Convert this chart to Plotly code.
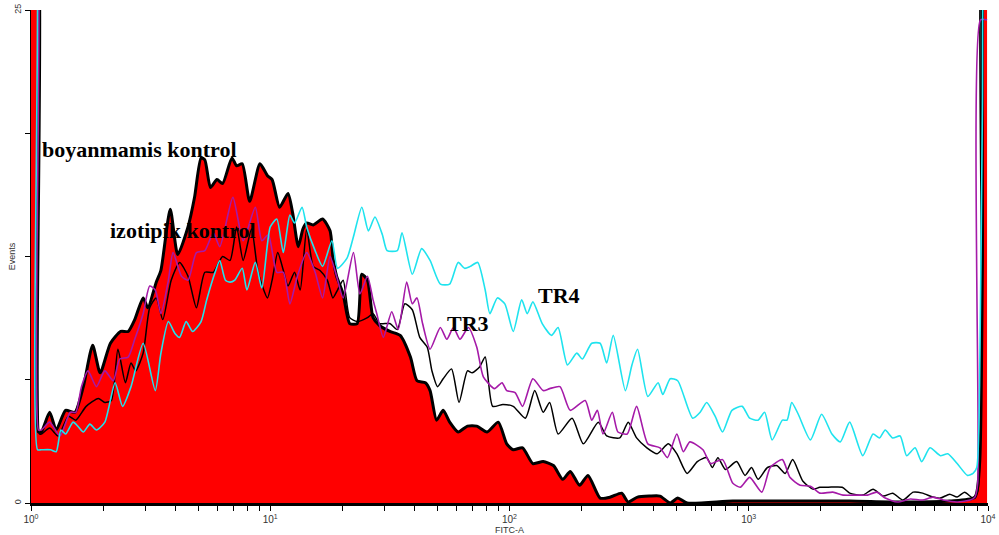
import plotly.graph_objects as go

# FITC-A histograms: channel numbers (1024 channels over 4 log decades) and event counts

boyanmamis_ch = [0, 5, 8, 11, 20, 27, 37, 47, 56, 66, 74, 85, 96, 104, 111, 120, 125, 134, 139, 149,
                 157, 168, 175, 182, 186, 192, 199, 205, 215, 220, 226, 234, 245, 253, 258, 266, 275,
                 280, 286, 291, 295, 302, 312, 320, 323, 327, 334, 341, 349, 354, 360, 366, 373, 384,
                 395, 406, 413, 422, 427, 434, 441, 448, 457, 467, 477, 488, 500, 509, 516, 526, 537,
                 548, 559, 569, 577, 587, 596, 609, 620, 632, 639, 649, 662, 673, 684, 692, 702, 751,
                 823, 876, 930, 983, 1010, 1015, 1018, 1021, 1023]
boyanmamis_events = [30, 30, 3.6, 3.6, 4.6, 3.7, 4.7, 4.6, 5.9, 8.0, 6.6, 8.1, 8.7, 8.7, 9.3, 10.4, 9.9,
                     11.2, 11.8, 14.9, 12.6, 14.0, 15.5, 17.5, 17.4, 16.0, 16.4, 16.2, 17.5, 17.1, 17.2,
                     15.3, 17.2, 16.6, 16.4, 15.0, 15.7, 14.7, 13.0, 13.9, 14.2, 14.1, 14.4, 13.8, 12.5,
                     11.5, 10.6, 9.1, 9.1, 11.6, 11.3, 9.4, 9.0, 8.7, 8.5, 7.4, 6.2, 6.1, 5.7, 4.2, 4.7,
                     4.1, 3.6, 3.9, 3.9, 3.6, 4.1, 3.0, 2.7, 2.8, 2.0, 2.1, 1.9, 1.2, 1.6, 0.9, 1.4, 0.25,
                     0.3, 0.5, 0.05, 0.3, 0.35, 0.35, 0.0, 0.25, 0.0, 0.1, 0.1, 0.1, 0.05, 0.1, 0.3, 2.0,
                     12.0, 30, 30]

izotipik_ch = [0, 6, 9, 11, 20, 29, 40, 48, 59, 72, 79, 86, 93, 101, 107, 112, 120, 127, 134, 141, 150,
               159, 168, 177, 186, 195, 205, 213, 220, 227, 236, 243, 253, 258, 264, 270, 275, 282, 288,
               295, 302, 309, 317, 323, 328, 334, 341, 349, 360, 366, 373, 384, 392, 400, 408, 416, 424,
               429, 435, 441, 450, 458, 467, 472, 480, 486, 494, 505, 516, 529, 539, 548, 555, 564, 579,
               591, 607, 616, 630, 639, 648, 659, 670, 682, 691, 702, 713, 723, 729, 735, 743, 755, 764,
               771, 778, 788, 798, 807, 815, 826, 837, 844, 853, 868, 876, 890, 901, 912, 922, 933, 944,
               954, 965, 973, 983, 991, 999, 1008, 1013, 1017, 1019, 1023]
izotipik_events = [30, 30, 3.5, 3.5, 3.8, 3.4, 4.4, 4.2, 4.9, 5.3, 5.1, 5.2, 7.8, 6.1, 7.1, 6.7, 7.6,
                   9.9, 10.4, 9.3, 11.3, 12.2, 11.5, 9.9, 11.7, 11.7, 12.5, 12.3, 14.0, 12.3, 13.9, 11.7,
                   10.4, 11.3, 12.7, 11.8, 11.0, 11.7, 10.8, 13.9, 12.0, 11.8, 11.3, 10.4, 10.8, 11.3,
                   9.4, 9.2, 9.4, 9.6, 9.1, 9.1, 8.8, 10.1, 9.8, 8.4, 7.9, 6.7, 5.9, 6.3, 6.8, 5.1, 6.7,
                   6.6, 6.9, 7.4, 4.9, 5.0, 4.9, 4.3, 5.7, 4.6, 5.1, 3.5, 4.3, 3.0, 4.1, 3.4, 3.3, 4.1,
                   3.3, 2.8, 2.5, 3.0, 2.5, 1.5, 2.1, 2.3, 1.8, 2.3, 1.7, 2.1, 1.4, 1.8, 1.2, 1.8, 1.9,
                   1.5, 2.2, 1.1, 0.7, 0.8, 0.8, 0.8, 0.5, 0.4, 0.7, 0.35, 0.5, 0.15, 0.55, 0.5, 0.3,
                   0.25, 0.45, 0.3, 0.55, 0.25, 0.6, 10.0, 30, 30]

tr3_ch = [0, 5, 8, 11, 20, 31, 42, 48, 54, 61, 70, 79, 88, 95, 104, 111, 120, 127, 133, 139, 147, 152,
          161, 168, 177, 186, 195, 202, 216, 227, 240, 247, 254, 263, 270, 277, 285, 295, 304, 312, 320,
          327, 334, 345, 352, 360, 366, 370, 377, 386, 393, 402, 408, 413, 419, 427, 438, 445, 452, 459,
          468, 477, 484, 496, 504, 509, 518, 526, 537, 548, 555, 566, 577, 593, 600, 606, 612, 622, 628,
          638, 648, 660, 673, 681, 691, 698, 705, 719, 727, 740, 751, 759, 769, 782, 791, 804, 812, 823,
          834, 844, 858, 869, 884, 895, 905, 914, 927, 941, 954, 965, 976, 991, 1005, 1010, 1013, 1016,
          1023]
tr3_events = [30, 30, 3.7, 3.7, 4.1, 3.4, 4.6, 4.6, 5.9, 6.7, 5.9, 6.7, 6.2, 7.3, 7.4, 8.3, 9.6, 11.0,
              10.8, 9.6, 11.3, 12.7, 11.5, 11.3, 12.7, 12.8, 13.7, 13.0, 15.5, 13.3, 15.0, 13.3, 13.6,
              11.7, 11.7, 10.1, 11.5, 12.7, 11.7, 10.4, 12.5, 11.5, 10.4, 12.7, 10.6, 11.5, 10.3, 9.6,
              8.4, 9.7, 8.8, 11.2, 10.1, 10.4, 9.1, 7.8, 8.9, 8.3, 8.9, 8.3, 8.9, 7.9, 6.4, 5.8, 6.1,
              5.7, 5.6, 4.9, 6.3, 5.7, 5.8, 5.9, 4.7, 5.2, 4.2, 4.7, 3.5, 4.6, 3.6, 3.5, 4.9, 3.0, 2.8,
              2.3, 3.5, 2.6, 3.1, 2.7, 2.0, 2.2, 1.0, 0.8, 1.3, 0.55, 1.8, 2.2, 1.3, 0.9, 0.85, 0.5,
              0.55, 0.4, 0.4, 0.4, 0.55, 0.25, 0.05, 0.2, 0.15, 0.3, 0.15, 0.05, 0.15, 0.3, 1.0, 24.5,
              24.5]

tr4_ch = [0, 4, 7, 11, 21, 27, 32, 37, 45, 50, 56, 63, 70, 79, 90, 98, 107, 120, 133, 139, 147, 154,
          159, 166, 173, 182, 188, 197, 202, 208, 213, 218, 226, 231, 240, 247, 256, 263, 270, 277, 282,
          290, 295, 304, 312, 322, 328, 338, 345, 354, 361, 368, 376, 381, 392, 397, 408, 418, 427, 438,
          448, 457, 464, 470, 478, 486, 491, 499, 507, 516, 525, 531, 537, 547, 557, 564, 574, 584, 590,
          600, 609, 616, 623, 636, 643, 649, 660, 671, 676, 684, 692, 708, 716, 723, 732, 740, 750, 761,
          769, 778, 785, 793, 804, 809, 814, 821, 834, 846, 857, 866, 876, 890, 901, 908, 914, 922, 930,
          937, 946, 953, 962, 973, 981, 991, 1002, 1008, 1012, 1015, 1018, 1021, 1023]
tr4_events = [30, 30, 2.7, 2.7, 2.7, 2.6, 3.7, 3.5, 4.1, 3.9, 3.6, 4.0, 3.7, 4.1, 6.1, 4.9, 5.9, 8.1,
              5.7, 7.6, 9.2, 8.6, 8.4, 9.2, 8.7, 9.2, 10.3, 11.7, 12.3, 11.3, 11.2, 11.3, 11.9, 10.8,
              12.2, 10.9, 14.0, 14.4, 12.7, 14.6, 14.2, 15.0, 14.0, 12.8, 12.0, 13.3, 11.9, 12.4, 13.5,
              15.0, 13.8, 14.5, 13.6, 12.8, 12.8, 13.7, 11.6, 12.9, 12.3, 11.1, 11.1, 12.2, 11.9, 12.0,
              12.2, 10.8, 9.6, 10.4, 10.1, 8.7, 10.3, 9.6, 10.2, 9.1, 8.5, 8.9, 7.0, 7.6, 7.3, 8.1, 8.1,
              7.1, 8.5, 5.7, 7.0, 7.8, 5.4, 6.1, 5.5, 6.3, 6.2, 4.3, 4.6, 5.1, 4.4, 3.6, 4.7, 4.9, 4.3,
              4.2, 4.6, 3.2, 4.2, 4.2, 5.1, 4.5, 3.2, 4.5, 3.5, 3.1, 4.1, 2.4, 3.5, 3.3, 3.7, 3.3, 3.4,
              2.4, 2.8, 2.1, 2.8, 2.4, 2.5, 2.0, 1.4, 1.5, 1.8, 6.0, 20.0, 30, 30]

labels = ["boyanmamis kontrol", "izotipik kontrol", "TR3", "TR4"]
# label anchors: (log10 FITC-A of the left edge, events at the text middle)
label_pos = [(0.037, 17.95), (0.322, 13.8), (1.73, 9.08), (2.11, 10.5)]

decade_ticks = [1, 10, 100, 1000, 10000]
decade_text = ["10<sup>0</sup>", "10<sup>1</sup>", "10<sup>2</sup>", "10<sup>3</sup>", "10<sup>4</sup>"]
y_tickvals = [0, 6.25, 12.5, 18.75, 25]
y_ticktext = ["0", "", "", "", "25"]


def to_fitc(ch):
    return [10 ** (c / 256) for c in ch]


fig = go.Figure()

fig.add_trace(go.Scatter(
    x=to_fitc(boyanmamis_ch), y=boyanmamis_events, mode="lines", fill="tozeroy",
    fillcolor="#FF0000", line=dict(color="#000000", width=3, shape="spline", smoothing=0.6),
    name=labels[0]))
fig.add_trace(go.Scatter(
    x=to_fitc(izotipik_ch), y=izotipik_events, mode="lines",
    line=dict(color="#000000", width=1.5, shape="spline", smoothing=0.6), name=labels[1]))
fig.add_trace(go.Scatter(
    x=to_fitc(tr3_ch), y=tr3_events, mode="lines",
    line=dict(color="#A51AA8", width=1.6, shape="spline", smoothing=0.6), name=labels[2]))
fig.add_trace(go.Scatter(
    x=to_fitc(tr4_ch), y=tr4_events, mode="lines",
    line=dict(color="#1FE3EE", width=1.6, shape="spline", smoothing=0.6), name=labels[3]))

# tick positions 1..9 per decade, text only on the decades
x_tickvals, x_ticktext = [], []
for d, txt in zip(decade_ticks, decade_text):
    x_tickvals.append(d)
    x_ticktext.append(txt)
    if d < 10000:
        for m in range(2, 10):
            x_tickvals.append(d * m)
            x_ticktext.append("")

for text, (pos, ev) in zip(labels, label_pos):
    fig.add_annotation(
        x=pos, y=ev, xref="x", yref="y", text="<b>" + text + "</b>", showarrow=False,
        xanchor="left", yanchor="middle",
        font=dict(family="Liberation Serif, Times New Roman, serif", size=22, color="#000000"))

# y-axis title placed next to the tick labels
fig.add_annotation(
    x=-0.02, y=0.5, xref="paper", yref="paper", text="Events", textangle=-90, showarrow=False,
    xanchor="center", yanchor="middle", font=dict(size=9, color="#333333"))

fig.update_layout(
    width=999, height=535,
    margin=dict(l=31, r=11, t=10, b=32),
    paper_bgcolor="#FFFFFF", plot_bgcolor="#FFFFFF",
    showlegend=False,
    font=dict(family="Arial, Liberation Sans, sans-serif", size=10, color="#333333"),
)
fig.update_xaxes(
    type="log", range=[0, 4], tickvals=x_tickvals, ticktext=x_ticktext, automargin=False,
    ticks="outside", ticklen=5, tickcolor="#000000", tickwidth=1,
    showline=True, linecolor="#000000", linewidth=2.5, showgrid=False, zeroline=False,
    title=dict(text="FITC-A", font=dict(size=9, color="#333333"), standoff=2),
    tickfont=dict(size=10, color="#333333"),
)
fig.update_yaxes(
    range=[0, 25], tickvals=y_tickvals, ticktext=y_ticktext, automargin=False,
    ticks="outside", ticklen=5, tickcolor="#000000", tickwidth=1, tickangle=-90,
    showline=True, linecolor="#000000", linewidth=1, showgrid=False, zeroline=False,
    tickfont=dict(size=9, color="#333333"),
)

fig.write_html("out.html")
